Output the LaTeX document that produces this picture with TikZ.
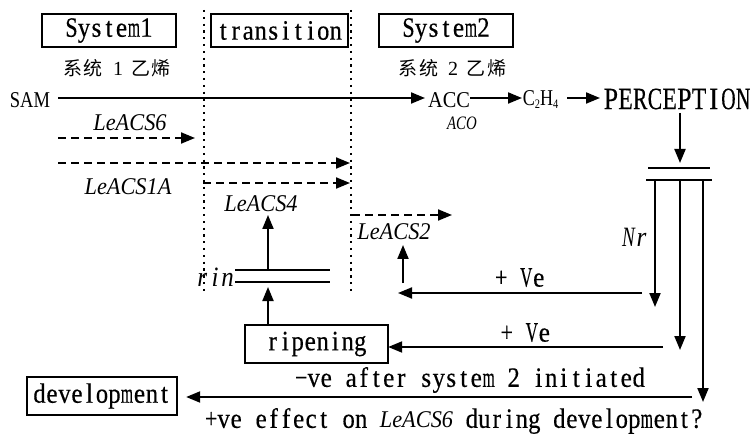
\documentclass[tikz,border=0pt]{standalone}
\usepackage{fontspec}
\setmainfont{Liberation Serif}
\newfontfamily\mfont[FakeBold=0.45]{Liberation Serif}
\newfontfamily\cjk{Noto Sans CJK SC}
\usepackage{graphicx}
\usetikzlibrary{arrows.meta}
\ExplSyntaxOn
\dim_new:N \l_mono_w_dim
\box_new:N \l_mono_box
\NewDocumentCommand\mono{O{12.5pt}m}{
  \dim_set:Nn \l_mono_w_dim {#1}
  \str_map_inline:nn {#2} {
    \hbox_set:Nn \l_mono_box {##1}
    \dim_compare:nNnTF {\box_wd:N \l_mono_box} > {0pt}
      { \makebox[\l_mono_w_dim]{\scalebox{\fp_eval:n{min(0.9, 0.98*\dim_to_fp:n{\l_mono_w_dim}/\dim_to_fp:n{\box_wd:N \l_mono_box})}}[1]{##1}} }
      { \makebox[\l_mono_w_dim]{##1} }
  }
}
\ExplSyntaxOff
\begin{document}
\begin{tikzpicture}[x=1pt,y=-1pt,
  every node/.style={inner sep=0pt, font=\fontsize{28}{28}\selectfont\mfont},
  box/.style={draw, line width=2.3pt, inner sep=0pt},
  arr/.style={line width=2pt, -{Triangle[length=14pt,width=11pt]}},
  darr/.style={arr, dash pattern=on 8pt off 5pt},
  dotline/.style={line width=2.3pt, dash pattern=on 2.3pt off 4.5pt},
  bar/.style={line width=2pt},
  plain/.style={font=\fontsize{22.6}{22.6}\selectfont\rmfamily},
  lab/.style={font=\fontsize{24}{24}\selectfont\rmfamily\itshape},
  monoit/.style={font=\fontsize{28}{28}\selectfont\rmfamily\itshape},
  cn/.style={font=\fontsize{19}{19}\selectfont\cjk}]
\useasboundingbox (0,0) rectangle (751,435);

% boxes
\node[box, minimum width=134pt, minimum height=33pt] (sys1) at (109,30.5) {\mono{System1}};
\node[box, minimum width=137pt, minimum height=33pt] (trans) at (279.5,30.5) {\mono{transition}};
\node[box, minimum width=134pt, minimum height=33pt] (sys2) at (446,30.5) {\mono{System2}};
\node[box, minimum width=143pt, minimum height=38pt] (rip) at (316.5,344) {\mono{ripening}};
\node[box, minimum width=150pt, minimum height=38pt] (dev) at (102,396) {\mono{development}};

% chinese labels
\node[cn] (cn1) at (117,68) {系\hspace{2pt}统\hspace{10pt}{\rmfamily\fontsize{20}{20}\selectfont 1}\hspace{8pt}乙\hspace{2pt}烯};
\node[cn] (cn2) at (452,68) {系\hspace{2pt}统\hspace{10pt}{\rmfamily\fontsize{20}{20}\selectfont 2}\hspace{8pt}乙\hspace{2pt}烯};

% dotted separators
\coordinate (d1t) at (204,10); \coordinate (d1b) at (204,295);
\coordinate (d2t) at (351,10); \coordinate (d2b) at (351,295);
\draw[dotline] (d1t) -- (d1b);
\draw[dotline] (d2t) -- (d2b);

% main pathway
\node[plain] (SAM) at (30,100) {\scalebox{0.82}[1]{SAM}};
\node[plain] (ACC) at (449,100) {\scalebox{0.9}[1]{ACC}};
\node[plain] (C2H4) at (540.5,100) {\scalebox{0.8}[1]{C\raisebox{-3pt}{\fontsize{13}{13}\selectfont 2}H\raisebox{-3pt}{\fontsize{13}{13}\selectfont 4}}};
\node[font=\fontsize{31}{31}\selectfont\mfont] (PERC) at (677,99) {\mono[14.7pt]{PERCEPTION}};
\node[font=\fontsize{19}{19}\selectfont\rmfamily\itshape] (ACO) at (462,123.5) {\scalebox{0.78}[1]{ACO}};

\coordinate (samR) at (58,98); \coordinate (accL) at (425,98);
\coordinate (accR) at (470,98); \coordinate (c2L) at (522,98);
\coordinate (c2R) at (567,98); \coordinate (perL) at (600,98);
\draw[arr] (samR) -- (accL);
\draw[arr] (accR) -- (c2L);
\draw[arr] (c2R) -- (perL);

% perception down to receptor bars
\coordinate (perB) at (680,113); \coordinate (barT) at (680,163);
\draw[arr] (perB) -- (barT);
\coordinate (b1l) at (648,168); \coordinate (b1r) at (710,168);
\coordinate (b2l) at (646,180); \coordinate (b2r) at (712,180);
\draw[bar] (b1l) -- (b1r);
\draw[bar] (b2l) -- (b2r);

\coordinate (v1t) at (655,180); \coordinate (v1b) at (655,307);
\coordinate (v2t) at (680,180); \coordinate (v2b) at (680,350);
\coordinate (v3t) at (703,180); \coordinate (v3b) at (703,402);
\draw[arr] (v1t) -- (v1b);
\draw[arr] (v2t) -- (v2b);
\draw[arr] (v3t) -- (v3b);
\node[monoit] (Nr) at (635,237) {\mono[13pt]{Nr}};

% +Ve 1 to LeACS2
\coordinate (p1r) at (642,293); \coordinate (p1l) at (398,293);
\draw[arr] (p1r) -- node[above=5pt] (pv1) {\mono{+ Ve}} (p1l);
\coordinate (u2b) at (403,283); \coordinate (u2t) at (403,245);
\draw[arr] (u2b) -- (u2t);
\coordinate (a2l) at (352,215); \coordinate (a2r) at (452,215);
\draw[darr] (a2l) -- (a2r);
\node[lab] (ACS2) at (394,232) {\scalebox{0.93}[1]{LeACS2}};

% +Ve 2 to ripening
\coordinate (p2r) at (663,347);
\draw[arr] (p2r) -- node[above=4pt] (pv2) {\mono{+ Ve}} ([xshift=-1pt]rip.east |- p2r);

% bottom to development
\coordinate (p3r) at (692,397);
\draw[arr] (p3r) -- ([xshift=8pt]dev.east |- p3r);
\node (neg) at (470,380) {\mono{−ve after system 2 initiated}};
\node (pos) at (454,421) {\mono{+ve effect on }{\fontsize{24}{24}\selectfont\rmfamily\itshape\scalebox{0.93}[1]{LeACS6}}\mono{ during development?}};

% rin
\coordinate (r1l) at (235,270); \coordinate (r1r) at (330,270);
\coordinate (r2l) at (235,282); \coordinate (r2r) at (330,282);
\draw[bar] (r1l) -- (r1r);
\draw[bar] (r2l) -- (r2r);
\node[monoit] (rin) at (215,277) {\mono[12.7pt]{rin}};
\coordinate (ripT) at (268,287);
\draw[arr] (rip.north -| ripT) -- (ripT);
\coordinate (a4b) at (268,270); \coordinate (a4t) at (268,215);
\draw[arr] (a4b) -- (a4t);
\node[lab] (ACS4) at (261,204) {\scalebox{0.93}[1]{LeACS4}};

% system 1 dashed arrows
\coordinate (a6l) at (58,138); \coordinate (a6r) at (195,138);
\draw[darr] (a6l) -- (a6r);
\node[lab] (ACS6) at (130,123) {\scalebox{0.93}[1]{LeACS6}};
\coordinate (a1l) at (58,163); \coordinate (a1r) at (350,163);
\draw[darr] (a1l) -- (a1r);
\coordinate (a1bl) at (203,183); \coordinate (a1br) at (350,183);
\draw[darr] (a1bl) -- (a1br);
\node[lab] (ACS1A) at (128,187) {\scalebox{0.93}[1]{LeACS1A}};
\end{tikzpicture}
\end{document}
